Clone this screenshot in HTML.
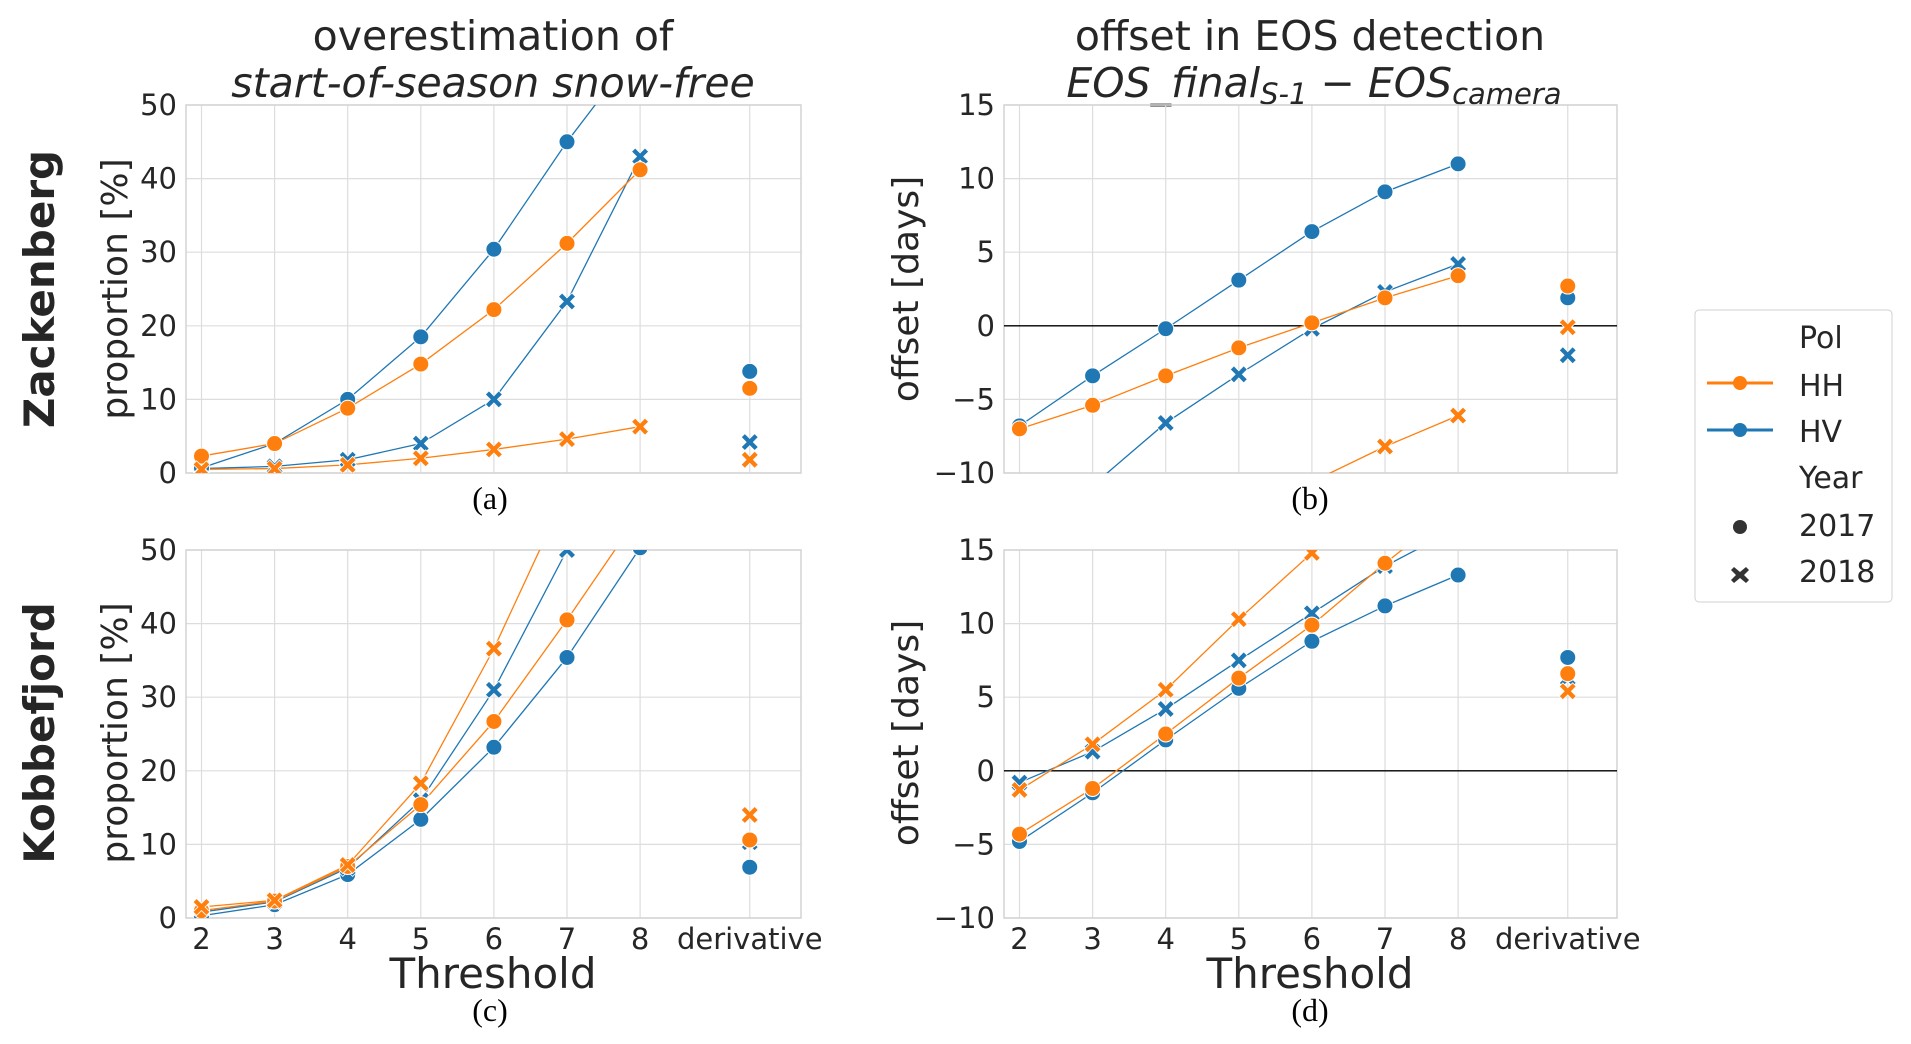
<!DOCTYPE html>
<html><head><meta charset="utf-8"><style>
html,body{margin:0;padding:0;background:#fff;}
svg{display:block;font-family:"DejaVu Sans","Liberation Sans",sans-serif;}
</style></head><body>
<svg id="fig" width="1911" height="1044" viewBox="0 0 1911 1044" xmlns="http://www.w3.org/2000/svg">
<rect width="1911" height="1044" fill="#fff"/>
<g fill="#262626">
<text x="493" y="50" font-size="41" text-anchor="middle">overestimation of</text>
<text x="493" y="97" font-size="41" font-style="italic" text-anchor="middle">start-of-season snow-free</text>
<text x="1310" y="50" font-size="41" text-anchor="middle">offset in EOS detection</text>
<text x="1314" y="97" font-size="41" font-style="italic" text-anchor="middle">EOS_final<tspan font-size="29" dy="7">S-1</tspan><tspan dy="-7"> − EOS</tspan><tspan font-size="29" dy="7">camera</tspan></text>
<text transform="translate(54,289) rotate(-90)" font-size="42" font-weight="bold" text-anchor="middle">Zackenberg</text>
<text transform="translate(54,733) rotate(-90)" font-size="42" font-weight="bold" text-anchor="middle">Kobbefjord</text>
<text transform="translate(127,289) rotate(-90)" font-size="36" text-anchor="middle">proportion [%]</text>
<text transform="translate(127,733) rotate(-90)" font-size="36" text-anchor="middle">proportion [%]</text>
<text transform="translate(918,289) rotate(-90)" font-size="36" text-anchor="middle">offset [days]</text>
<text transform="translate(918,733) rotate(-90)" font-size="36" text-anchor="middle">offset [days]</text>
<text x="493" y="988" font-size="42" text-anchor="middle">Threshold</text>
<text x="1310" y="988" font-size="42" text-anchor="middle">Threshold</text>
</g>
<g fill="#000" font-family="'Liberation Serif',serif" font-size="32" text-anchor="middle">
<text x="490" y="509">(a)</text>
<text x="1310" y="509">(b)</text>
<text x="490" y="1021">(c)</text>
<text x="1310" y="1021">(d)</text>
</g>
<g id="panels"></g>
<g>
<rect x="1695" y="310" width="197" height="292" rx="4" fill="#fff" stroke="#d0d0d0" stroke-width="1"/>
<g font-size="30" fill="#262626">
<text x="1799" y="348">Pol</text>
<text x="1799" y="396">HH</text>
<text x="1799" y="442">HV</text>
<text x="1799" y="488">Year</text>
<text x="1799" y="536">2017</text>
<text x="1799" y="582">2018</text>
</g>
<line x1="1707" y1="383" x2="1773" y2="383" stroke="#ff7f0e" stroke-width="3"/>
<circle cx="1740" cy="383" r="7" fill="#ff7f0e"/>
<line x1="1707" y1="430" x2="1773" y2="430" stroke="#1f77b4" stroke-width="3"/>
<circle cx="1740" cy="430" r="7" fill="#1f77b4"/>
<circle cx="1740" cy="527" r="7" fill="#333"/>
<path d="M1734 567 l6 5 6-5 3 3-5 5 5 5-3 3-6-5-6 5-3-3 5-5-5-5z" fill="#333"/>
</g>
</svg>
<script>
// categories
const categories = ["2", "3", "4", "5", "6", "7", "8", "derivative"];
const catIndex = [0, 1, 2, 3, 4, 5, 6, 7.5];
// tick labels
const ticksProp = [0, 10, 20, 30, 40, 50];
const ticksOffset = [-10, -5, 0, 5, 10, 15];
// panel a: Zackenberg proportion (thresholds 2..8)
const aHV2017 = [0.7, 4, 10, 18.5, 30.4, 45, 58];
const aHH2017 = [2.3, 4, 8.8, 14.8, 22.2, 31.2, 41.2];
const aHV2018 = [0.6, 0.9, 1.8, 4, 10, 23.3, 43];
const aHH2018 = [0.5, 0.6, 1.1, 2, 3.2, 4.6, 6.3];
const aDeriv = [13.8, 11.5, 4.2, 1.8]; // HV2017, HH2017, HV2018, HH2018
// panel b: Zackenberg offset
const bHV2017 = [-6.8, -3.4, -0.2, 3.1, 6.4, 9.1, 11.0];
const bHH2017 = [-7, -5.4, -3.4, -1.5, 0.2, 1.9, 3.4];
const bHV2018 = [-15, -10.85, -6.6, -3.3, -0.2, 2.3, 4.2];
const bHH2018 = [-16, -13, -12.5, -12, -10.6, -8.2, -6.1];
const bDeriv = [1.9, 2.7, -2.0, -0.1];
// panel c: Kobbefjord proportion
const cHV2017 = [0.3, 1.8, 5.9, 13.4, 23.2, 35.4, 50.3];
const cHH2017 = [1, 2.3, 7, 15.4, 26.7, 40.5, 55];
const cHV2018 = [0.8, 2.2, 6.8, 16, 31, 50, 65];
const cHH2018 = [1.5, 2.4, 7.2, 18.3, 36.6, 58, 75];
const cDeriv = [6.9, 10.6, 10.3, 14];
// panel d: Kobbefjord offset
const dHV2017 = [-4.8, -1.5, 2.1, 5.6, 8.8, 11.2, 13.3];
const dHH2017 = [-4.3, -1.2, 2.5, 6.3, 9.9, 14.1, 18];
const dHV2018 = [-0.8, 1.3, 4.2, 7.5, 10.7, 13.9, 16.5];
const dHH2018 = [-1.3, 1.8, 5.5, 10.3, 14.8, 19, 23];
const dDeriv = [7.7, 6.6, 6.3, 5.4];

const BLUE = "#1f77b4", ORANGE = "#ff7f0e";
const NS = "http://www.w3.org/2000/svg";
const root = document.getElementById("panels");
function mk(tag, attrs, parent) {
  const e = document.createElementNS(NS, tag);
  for (const k in attrs) e.setAttribute(k, attrs[k]);
  parent.appendChild(e);
  return e;
}
const panels = [
  {id:"a", x0:186, x1:801, y0:105, y1:473, ymin:0, ymax:50, ticks:ticksProp, zero:false, xt:false,
   s:[[aHV2017,BLUE,0],[aHV2018,BLUE,1],[aHH2017,ORANGE,0],[aHH2018,ORANGE,1]], d:aDeriv},
  {id:"b", x0:1004, x1:1617, y0:105, y1:473, ymin:-10, ymax:15, ticks:ticksOffset, zero:true, xt:false,
   s:[[bHV2017,BLUE,0],[bHV2018,BLUE,1],[bHH2017,ORANGE,0],[bHH2018,ORANGE,1]], d:bDeriv},
  {id:"c", x0:186, x1:801, y0:550, y1:918, ymin:0, ymax:50, ticks:ticksProp, zero:false, xt:true,
   s:[[cHV2017,BLUE,0],[cHV2018,BLUE,1],[cHH2017,ORANGE,0],[cHH2018,ORANGE,1]], d:cDeriv},
  {id:"d", x0:1004, x1:1617, y0:550, y1:918, ymin:-10, ymax:15, ticks:ticksOffset, zero:true, xt:true,
   s:[[dHV2017,BLUE,0],[dHV2018,BLUE,1],[dHH2017,ORANGE,0],[dHH2018,ORANGE,1]], d:dDeriv}
];
function marker(g, x, y, color, kind, name) {
  let e;
  if (kind === 0) {
    e = mk("circle", {cx:x, cy:y, r:8, fill:color, stroke:"#fff", "stroke-width":1}, g);
  } else {
    const s = 3.6, a = 8.5;
    const d = `M${x-a} ${y-a+s} L${x-a+s} ${y-a} L${x} ${y-s} L${x+a-s} ${y-a} L${x+a} ${y-a+s} L${x+s} ${y} L${x+a} ${y+a-s} L${x+a-s} ${y+a} L${x} ${y+s} L${x-a+s} ${y+a} L${x-a} ${y+a-s} L${x-s} ${y} Z`;
    e = mk("path", {d:d, fill:color, stroke:"#fff", "stroke-width":0.8}, g);
  }
  
  
}
panels.forEach(p => {
  const g = mk("g", {}, root);
  
  
  const step = 73.1;
  const xs = i => p.x0 + 15.5 + catIndex[i] * step;
  const ys = v => p.y1 - (v - p.ymin) / (p.ymax - p.ymin) * (p.y1 - p.y0);
  const clipId = "clip" + p.id;
  const cp = mk("clipPath", {id:clipId}, g);
  mk("rect", {x:p.x0, y:p.y0, width:p.x1-p.x0, height:p.y1-p.y0}, cp);
  p.ticks.forEach(t => {
    const l = mk("line", {x1:p.x0, x2:p.x1, y1:ys(t), y2:ys(t), stroke:"#dddddd", "stroke-width":1.2}, g);
    
    
    const tx = mk("text", {x:p.x0 - 9, y:ys(t) + 10, "font-size":29, "text-anchor":"end", fill:"#262626"}, g);
    tx.textContent = String(t).replace("-", "\u2212");
    
    
  });
  categories.forEach((c, i) => {
    const l = mk("line", {x1:xs(i), x2:xs(i), y1:p.y0, y2:p.y1, stroke:"#dddddd", "stroke-width":1.2}, g);
    
    
    if (p.xt) {
      const tx = mk("text", {x:xs(i), y:p.y1 + 31, "font-size":29, "text-anchor":"middle", fill:"#262626"}, g);
      tx.textContent = c;
      
      
    }
  });
  const fr = mk("rect", {x:p.x0, y:p.y0, width:p.x1-p.x0, height:p.y1-p.y0, fill:"none", stroke:"#d3d3d3", "stroke-width":1.5}, g);
  
  
  if (p.zero) {
    const z = mk("line", {x1:p.x0, x2:p.x1, y1:ys(0), y2:ys(0), stroke:"#000", "stroke-width":1.3}, g);
    
    
  }
  const cg = mk("g", {"clip-path":`url(#${clipId})`}, g);
  p.s.forEach(([vals, col, kind]) => {
    const pts = vals.map((v, i) => xs(i) + "," + ys(v)).join(" ");
    const pl = mk("polyline", {points:pts, fill:"none", stroke:col, "stroke-width":1.3}, cg);
    
    
  });
  p.s.forEach(([vals, col, kind]) => {
    vals.forEach((v, i) => marker(cg, xs(i), ys(v), col, kind, 'point'));
  });
  const dcols = [[BLUE,0],[ORANGE,0],[BLUE,1],[ORANGE,1]];
  [0,2,1,3].forEach(k => marker(cg, xs(7), ys(p.d[k]), dcols[k][0], dcols[k][1], 'derivative-point'));
});
</script>
</body></html>
